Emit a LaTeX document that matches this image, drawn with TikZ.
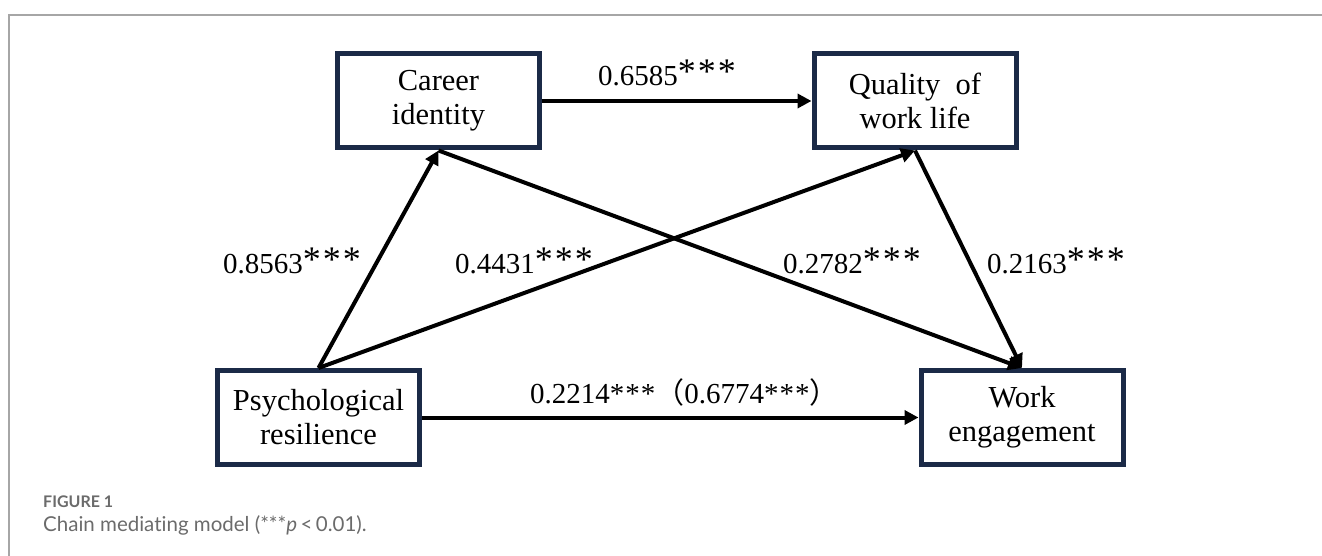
\documentclass[tikz,border=0pt]{standalone}
\usepackage{fontspec}
\setmainfont{Liberation Serif}
\newfontfamily\capfont[Ligatures=NoCommon]{Lato}
\newfontfamily\cjkfont{Noto Sans CJK SC}
\usetikzlibrary{arrows.meta}
\definecolor{boxnavy}{HTML}{1B2A47}
\definecolor{framegray}{HTML}{A6A6A6}
\definecolor{capgray}{HTML}{6B6B6B}
\newcommand{\stars}{\raisebox{2pt}{\fontsize{36}{36}\selectfont *\kern2pt*\kern2pt*}}
\tikzset{
    base/.style={draw=boxnavy, line width=5pt, rectangle, minimum width=202pt, minimum height=94pt, align=center, inner sep=0pt, font=\fontsize{30.5}{34}\selectfont},
    arrow/.style={line width=4pt, -{Triangle[length=14pt, width=14pt]}},
    coef/.style={anchor=base west, inner sep=0pt, font=\fontsize{29}{29}\selectfont},
    caption/.style={anchor=base west, inner sep=0pt, text=capgray}
}

\begin{document}
\begin{tikzpicture}[x=1pt, y=-1pt]
\useasboundingbox (0,0) rectangle (1322,556);
\draw[framegray, line width=2pt] (1322,15) -- (9,15) -- (9,556);
% variables
\node[base] (c) at (438.5,101) {Career\\identity};
\node[base] (q) at (915,101) {Quality~~of\\work life};
\node[base] (p) at (318.5,417.5) {Psychological\\resilience};
\node[base] (w) at (1022,417.5) {Work\\engagement};
% paths
\draw[arrow] (c) -- (q);
\draw[arrow] (p.north) -- (c.south);
\draw[arrow] (p.north) -- (q.south);
\draw[arrow] (c.south) -- (w.north);
\draw[arrow] (q.south) -- (w.north);
\draw[arrow] (p) -- (w);
% coefficients
\node[coef] (cq) at (598,86) {0.6585\stars};
\node[coef] (pc) at (223,273) {0.8563\stars};
\node[coef] (pq) at (455,273) {0.4431\stars};
\node[coef] (cw) at (783,273) {0.2782\stars};
\node[coef] (qw) at (987,273) {0.2163\stars};
\node[coef] (pw) at (530,403) {0.2214*\kern1pt*\kern1pt*{\cjkfont （}0.6774*\kern1pt*\kern1pt*{\cjkfont ）}};
% caption
\node[caption, font=\capfont\bfseries\fontsize{16}{16}\selectfont] (fig) at (43,507) {FIGURE 1};
\node[caption, font=\capfont\fontsize{20.5}{20.5}\selectfont] (cap) at (43,531) {Chain mediating model (***\textit{p}\,<\,0.01).};
\end{tikzpicture}
\end{document}
